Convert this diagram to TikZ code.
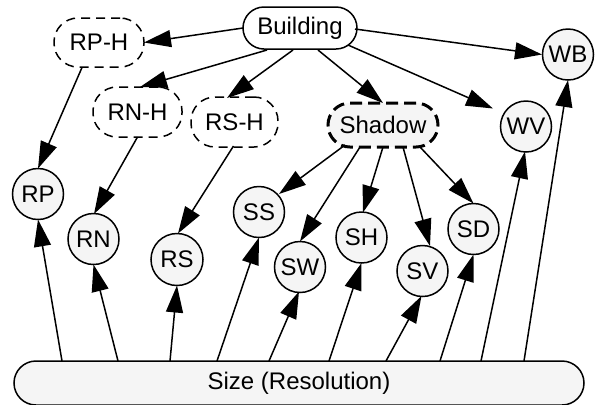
\documentclass[tikz,border=0pt]{standalone}
\usepackage{fontspec}
\setmainfont{Liberation Sans}
\usetikzlibrary{arrows.meta,calc}

\definecolor{nodefill}{HTML}{F5F5F5}

\tikzset{
  base/.style={draw=black, line width=0.75pt, inner sep=0pt, outer sep=0pt,
    font=\fontsize{12}{14}\selectfont},
  var/.style={base, circle, fill=nodefill, minimum size=25.5pt},
  pill/.style={base, rounded corners=10.5pt, fill=white},
  hidden/.style={base, rounded corners=12pt, fill=white,
    dash pattern=on 4.5pt off 3pt},
  latent/.style={base, rounded corners=11pt, fill=nodefill, line width=1.5pt,
    dash pattern=on 6pt off 3pt},
  arr/.style={line width=0.75pt, -{Triangle[length=13.5pt,width=8.5pt]}},
}

\begin{document}
\begin{tikzpicture}[x=0.5pt, y=-0.5pt]
\useasboundingbox (0,0) rectangle (596,404);

% latent / hidden nodes
\node[pill, minimum width=57pt, minimum height=21pt] (B) at (300,28) {Building};
\node[hidden, minimum width=45pt, minimum height=24.5pt] (RPH) at (99,42.5) {RP-H};
\node[hidden, minimum width=44.5pt, minimum height=25pt] (RNH) at (137.5,112) {RN-H};
\node[hidden, minimum width=43.5pt, minimum height=25pt] (RSH) at (234.5,122) {RS-H};
\node[latent, minimum width=55pt, minimum height=22pt] (Sh) at (383,125) {Shadow};

% observed variables
\node[var] (WB) at (568,54.5) {WB};
\node[var] (WV) at (526,126.5) {WV};
\node[var] (RP) at (38,194) {RP};
\node[var] (RN) at (93.5,239) {RN};
\node[var, minimum size=26pt] (RS) at (177,259.5) {RS};
\node[var] (SS) at (259,212) {SS};
\node[var] (SW) at (300,267) {SW};
\node[var] (SH) at (361.5,237.5) {SH};
\node[var] (SV) at (422.5,271) {SV};
\node[var] (SD) at (473.5,229) {SD};

% size node along the bottom
\node[base, rounded corners=11pt, fill=nodefill, minimum width=285pt,
  minimum height=22pt] (Sz) at (299,383) {Size (Resolution)};

% edges out of Building
\draw[arr] (B.west) -- (RPH.east);
\draw[arr] ($(B.center)+(-33,22)$) -- ($(RNH.center)+(2.5,-25)$);
\draw[arr] ($(B.center)+(-7,22)$) -- ($(RSH.center)+(-7.5,-24)$);
\draw[arr] ($(B.center)+(18,22)$) -- (Sh.north);
\draw[arr] ($(B.center)+(48,17)$) -- ($(WV.center)+(-33,-18)$);
\draw[arr] ($(B.center)+(55,1)$) -- ($(WB.center)+(-26,0)$);

% hidden roof nodes to their observations
\draw[arr] ($(RPH.center)+(-17,25)$) -- (RP.north);
\draw[arr] (RNH.south) -- ($(RN.center)+(0.5,-25)$);
\draw[arr] ($(RSH.center)+(-1,24)$) -- ($(RS.center)+(1,-26)$);

% edges out of Shadow
\draw[arr] ($(Sh.center)+(-38,20)$) -- ($(SS.center)+(20,-18)$);
\draw[arr] ($(Sh.center)+(-23,22)$) -- (SW.north);
\draw[arr] (Sh.south) -- ($(SH.center)+(1.5,-25)$);
\draw[arr] ($(Sh.center)+(20,22)$) -- ($(SV.center)+(7.5,-25)$);
\draw[arr] ($(Sh.center)+(37,22)$) -- (SD.north);

% edges out of Size
\draw[arr] ($(Sz.center)+(-237,-22)$) -- (RP.south);
\draw[arr] ($(Sz.center)+(-181,-22)$) -- (RN.south);
\draw[arr] ($(Sz.center)+(-129,-22)$) -- (RS.south);
\draw[arr] ($(Sz.center)+(-82,-22)$) -- (SS.south);
\draw[arr] ($(Sz.center)+(-30,-22)$) -- ($(SW.center)+(-1,24.5)$);
\draw[arr] ($(Sz.center)+(30,-22)$) -- (SH.south);
\draw[arr] ($(Sz.center)+(87,-22)$) -- ($(SV.center)+(-1,25)$);
\draw[arr] ($(Sz.center)+(141,-22)$) -- (SD.south);
\draw[arr] ($(Sz.center)+(182,-22)$) -- ($(WV.center)+(-1,25)$);
\draw[arr] ($(Sz.center)+(225,-22)$) -- (WB.south);
\end{tikzpicture}
\end{document}
